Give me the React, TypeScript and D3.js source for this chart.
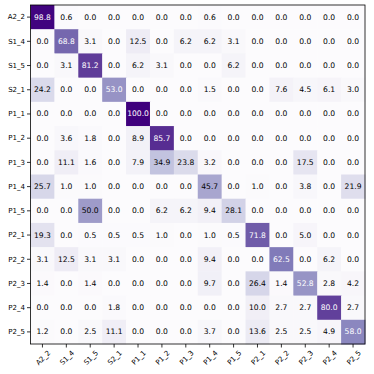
import { useEffect, useRef } from 'react';
import * as d3 from 'd3';

const labels = ['A2_2', 'S1_4', 'S1_5', 'S2_1', 'P1_1', 'P1_2', 'P1_3', 'P1_4', 'P1_5', 'P2_1', 'P2_2', 'P2_3', 'P2_4', 'P2_5'];

const rowA2_2 = [98.8, 0.6, 0.0, 0.0, 0.0, 0.0, 0.0, 0.6, 0.0, 0.0, 0.0, 0.0, 0.0, 0.0];
const rowS1_4 = [0.0, 68.8, 3.1, 0.0, 12.5, 0.0, 6.2, 6.2, 3.1, 0.0, 0.0, 0.0, 0.0, 0.0];
const rowS1_5 = [0.0, 3.1, 81.2, 0.0, 6.2, 3.1, 0.0, 0.0, 6.2, 0.0, 0.0, 0.0, 0.0, 0.0];
const rowS2_1 = [24.2, 0.0, 0.0, 53.0, 0.0, 0.0, 0.0, 1.5, 0.0, 0.0, 7.6, 4.5, 6.1, 3.0];
const rowP1_1 = [0.0, 0.0, 0.0, 0.0, 100.0, 0.0, 0.0, 0.0, 0.0, 0.0, 0.0, 0.0, 0.0, 0.0];
const rowP1_2 = [0.0, 3.6, 1.8, 0.0, 8.9, 85.7, 0.0, 0.0, 0.0, 0.0, 0.0, 0.0, 0.0, 0.0];
const rowP1_3 = [0.0, 11.1, 1.6, 0.0, 7.9, 34.9, 23.8, 3.2, 0.0, 0.0, 0.0, 17.5, 0.0, 0.0];
const rowP1_4 = [25.7, 1.0, 1.0, 0.0, 0.0, 0.0, 0.0, 45.7, 0.0, 1.0, 0.0, 3.8, 0.0, 21.9];
const rowP1_5 = [0.0, 0.0, 50.0, 0.0, 0.0, 6.2, 6.2, 9.4, 28.1, 0.0, 0.0, 0.0, 0.0, 0.0];
const rowP2_1 = [19.3, 0.0, 0.5, 0.5, 0.5, 1.0, 0.0, 1.0, 0.5, 71.8, 0.0, 5.0, 0.0, 0.0];
const rowP2_2 = [3.1, 12.5, 3.1, 3.1, 0.0, 0.0, 0.0, 9.4, 0.0, 0.0, 62.5, 0.0, 6.2, 0.0];
const rowP2_3 = [1.4, 0.0, 1.4, 0.0, 0.0, 0.0, 0.0, 9.7, 0.0, 26.4, 1.4, 52.8, 2.8, 4.2];
const rowP2_4 = [0.0, 0.0, 0.0, 1.8, 0.0, 0.0, 0.0, 0.0, 0.0, 10.0, 2.7, 2.7, 80.0, 2.7];
const rowP2_5 = [1.2, 0.0, 2.5, 11.1, 0.0, 0.0, 0.0, 3.7, 0.0, 13.6, 2.5, 2.5, 4.9, 58.0];

const matrix = [rowA2_2, rowS1_4, rowS1_5, rowS2_1, rowP1_1, rowP1_2, rowP1_3, rowP1_4, rowP1_5, rowP2_1, rowP2_2, rowP2_3, rowP2_4, rowP2_5];

export default function App() {
  const ref = useRef<SVGSVGElement | null>(null);

  useEffect(() => {
    const W = 374;
    const H = 374;
    const margin = { top: 5, right: 9, bottom: 30, left: 30.5 };
    const width = W - margin.left - margin.right;
    const height = H - margin.top - margin.bottom;

    const root = d3.select(ref.current);
    root.selectAll('*').remove();

    const svg = root
      .append('g')
      .attr('transform', `translate(${margin.left},${margin.top})`);

    const x = d3.scaleBand().domain(labels).range([0, width]);
    const y = d3.scaleBand().domain(labels).range([0, height]);
    const color = d3.scaleSequential(d3.interpolatePurples).domain([0, 100]);
    const thresh = 50;

    const cells = matrix.flatMap((row, i) =>
      row.map((v, j) => ({ r: labels[i], c: labels[j], v })),
    );

    svg
      .selectAll('rect.cell')
      .data(cells)
      .enter()
      .append('rect')
      .attr('class', 'cell')
      .attr('x', (d) => x(d.c)!)
      .attr('y', (d) => y(d.r)!)
      .attr('width', x.bandwidth() + 0.5)
      .attr('height', y.bandwidth() + 0.5)
      .attr('fill', (d) => color(d.v));

    svg
      .selectAll('text.val')
      .data(cells)
      .enter()
      .append('text')
      .attr('class', 'val')
      .attr('x', (d) => x(d.c)! + x.bandwidth() / 2)
      .attr('y', (d) => y(d.r)! + y.bandwidth() / 2)
      .attr('text-anchor', 'middle')
      .attr('dominant-baseline', 'central')
      .style('font-family', 'DejaVu Sans')
      .style('font-size', '7.6px')
      .attr('fill', (d) => (d.v > thresh ? '#ffffff' : '#000000'))
      .text((d) => d.v.toFixed(1));

    // axes
    const yAxis = svg
      .append('g')
      .call(d3.axisLeft(y).tickSize(3.5).tickPadding(2));
    yAxis.select('.domain').remove();
    yAxis.selectAll('text').style('font-family', 'DejaVu Sans').style('font-size', '7px');
    yAxis.selectAll('line').attr('stroke-width', 0.8);

    const xAxis = svg
      .append('g')
      .attr('transform', `translate(0,${height})`)
      .call(d3.axisBottom(x).tickSize(3.5).tickPadding(2));
    xAxis.select('.domain').remove();
    xAxis.selectAll('line').attr('stroke-width', 0.8);
    xAxis
      .selectAll('text')
      .style('font-family', 'DejaVu Sans')
      .style('font-size', '7px')
      .attr('text-anchor', 'end')
      .attr('dy', '0.3em')
      .attr('transform', 'translate(3,4) rotate(-45)');

    // frame
    svg
      .append('rect')
      .attr('width', width)
      .attr('height', height)
      .attr('fill', 'none')
      .attr('stroke', '#000')
      .attr('stroke-width', 0.8);
  }, []);

  return (
    <svg
      ref={ref}
      width={374}
      height={374}
      style={{ position: 'absolute', left: 0, top: 0, background: '#fff' }}
    />
  );
}
